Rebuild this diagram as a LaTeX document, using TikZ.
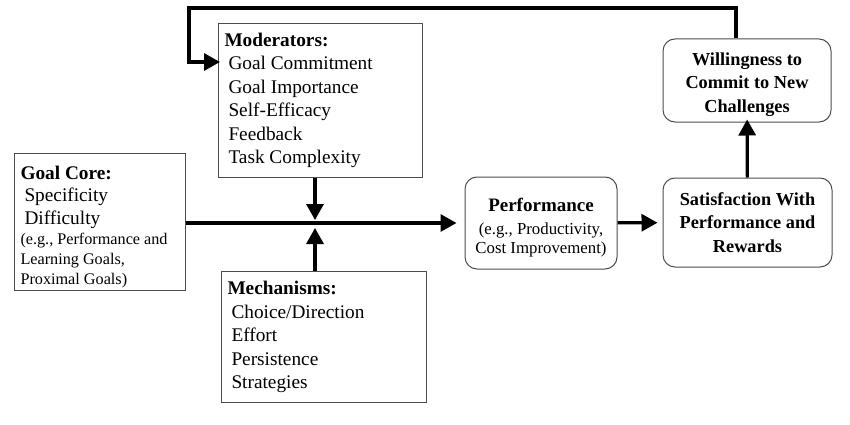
\documentclass[tikz,border=0pt]{standalone}
\usepackage{fontspec}
\setmainfont{Liberation Serif}
\usetikzlibrary{arrows.meta}

\begin{document}
\begin{tikzpicture}[x=1pt,y=-1pt,
  box/.style={draw=black!70,line width=1pt,inner xsep=6pt,inner ysep=0pt,
    align=flush left,anchor=north west,font=\fontsize{19.3}{23.5}\selectfont},
  rbox/.style={draw=black!70,line width=1pt,rounded corners=12pt,inner sep=0pt,
    align=flush center,font=\fontsize{18.3}{23.5}\selectfont\bfseries},
  link/.style={line width=3.2pt,-{Triangle[length=16pt,width=17pt]}}]
\useasboundingbox (0,0) rectangle (850,425);

\node[box,text width=159pt,minimum height=137pt] (core) at (14,153)
  {\textbf{Goal Core:}\\[-2pt]\hspace*{4pt}Specificity\\\hspace*{4pt}Difficulty\par
   \fontsize{16.2}{19.8}\selectfont (e.g., Performance and\\Learning Goals,\\Proximal Goals)\par
   \vspace{-10pt}\hrule height 0pt};

\node[box,text width=192pt,minimum height=154pt] (mod) at (218,23)
  {\textbf{Moderators:}\\\hspace*{4pt}Goal Commitment\\\hspace*{4pt}Goal Importance\\
   \hspace*{4pt}Self-Efficacy\\\hspace*{4pt}Feedback\\\hspace*{4pt}Task Complexity};

\node[box,text width=193pt,minimum height=131pt] (mech) at (221,271)
  {\textbf{Mechanisms:}\\\hspace*{4pt}Choice/Direction\\\hspace*{4pt}Effort\\
   \hspace*{4pt}Persistence\\\hspace*{4pt}Strategies};

\node[rbox,text width=145pt,minimum width=152pt,minimum height=92pt] (perf) at (541,223)
  {\fontsize{19}{23.5}\selectfont Performance\par\vspace{3pt}
   \normalfont\fontsize{16.8}{19.5}\selectfont (e.g., Productivity,\\Cost Improvement)\par
   \vspace{-10pt}\hrule height 0pt};
\node[rbox,text width=165pt,minimum width=169pt,minimum height=89pt] (sat) at (747.5,222.5)
  {Satisfaction With\\Performance and\\Rewards};
\node[rbox,text width=165pt,minimum width=168pt,minimum height=83pt] (will) at (747,80.5)
  {Willingness to\\Commit to New\\Challenges\par\vspace{-8pt}\hrule height 0pt};

% main line and the two side inputs
\coordinate (meet) at (315,223);
\draw[link,shorten >=8pt] (core.east |- perf.west) -- (perf.west);
\draw[link,shorten >=3pt] (mod.south -| meet) -- (meet);
\draw[link,shorten >=5pt] (mech.north -| meet) -- (meet);

\draw[link,shorten >=5pt] (perf) -- (sat);
\draw[link,shorten >=-3pt] (sat) -- (will);

% feedback loop
\coordinate (top) at (736,8);
\coordinate (back) at (189,62);
\draw[link,shorten >=-2pt] (will.north -| top) -- (top) -| (back) -- (mod.west |- back);
\end{tikzpicture}
\end{document}
